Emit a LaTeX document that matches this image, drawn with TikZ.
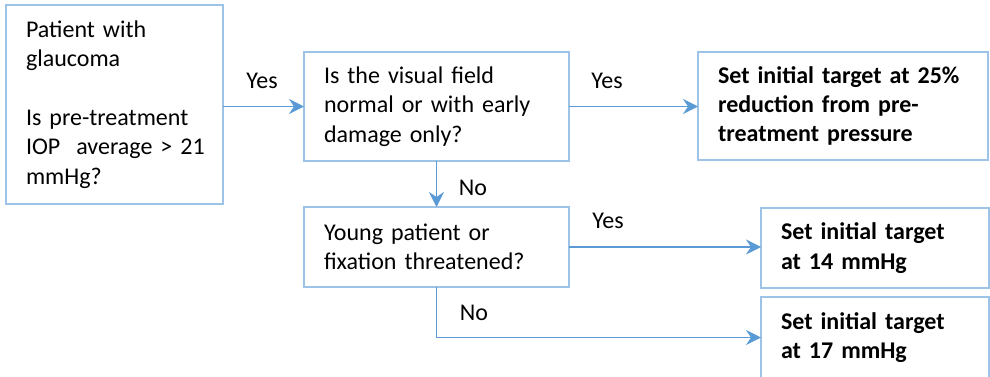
\documentclass[tikz,border=0pt]{standalone}
\usepackage{fontspec}
\setmainfont{Carlito}
\usetikzlibrary{arrows.meta}
\definecolor{boxline}{HTML}{9DC3E6}
\definecolor{arrowline}{HTML}{5B9BD5}
\begin{document}
\begin{tikzpicture}[x=1pt,y=-1pt,
  box/.style 2 args={draw=boxline, line width=1.5pt, outer sep=0pt,
    minimum width=#1pt, minimum height=#2pt, text width=#1pt-40pt,
    inner xsep=20pt, inner ysep=0pt, align=left, anchor=north west,
    font=\fontsize{24}{29.3}\selectfont},
  lbl/.style={font=\fontsize{24}{29.3}\selectfont, inner sep=0pt},
  conn/.style={draw=arrowline, line width=1.3pt,
    -{Stealth[length=15pt,width=15pt,inset=5pt]}}]
\useasboundingbox (0,0) rectangle (990,376);
\node[box={217}{199}] (b1) at (6,5)
  {Patient with\\glaucoma\\[29.3pt]Is pre-treatment\\\mbox{IOP\ \ average > 21}\\mmHg?};
\node[box={265}{109}] (b2) at (304,52)
  {Is the visual field\\normal or with early\\damage only?};
\node[box={290}{108}] (b3) at (698,52)
  {\bfseries Set initial target at 25\%\\reduction from pre-\\treatment pressure};
\node[box={265}{80}] (b4) at (304,207)
  {Young patient or\\fixation threatened?};
\node[box={228}{80}] (b5) at (761,208)
  {\bfseries Set initial target\\at 14 mmHg};
\node[box={228}{81}] (b6) at (761,297)
  {\bfseries Set initial target\\at 17 mmHg};
\draw[conn] (b1.east |- b2.west) -- (b2.west);
\draw[conn] (b2.east) -- (b2.east -| b3.west);
\draw[conn] (b2.south) -- (b2.south |- b4.north);
\draw[conn] (b4.east) -- (b4.east -| b5.west);
\draw[conn] (b4.south) |- (b6.west);
\node[lbl] (y1) at (262,81) {Yes};
\node[lbl] (y2) at (607,81) {Yes};
\node[lbl] (n1) at (473,188) {No};
\node[lbl] (y3) at (608,221) {Yes};
\node[lbl] (n2) at (474,313) {No};
\end{tikzpicture}
\end{document}
